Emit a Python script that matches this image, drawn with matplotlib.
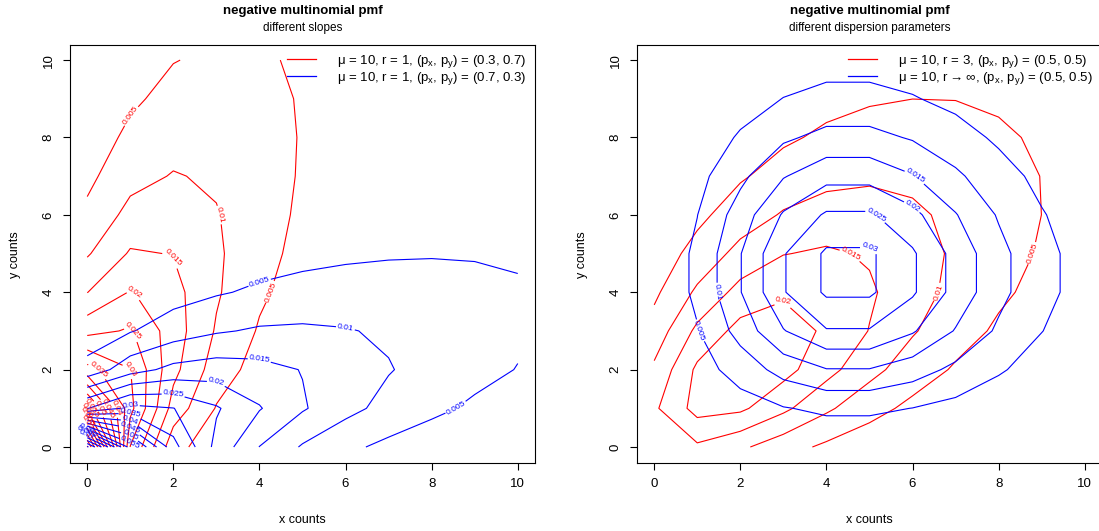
import math

import matplotlib
matplotlib.use("Agg")
import matplotlib.pyplot as plt
import numpy as np

plt.rcParams["font.family"] = ["Liberation Sans", "DejaVu Sans"]
plt.rcParams["mathtext.default"] = "regular"

# grid of counts and the distribution parameters read from the legends
counts = np.arange(0, 11)
mu = 10

left_r = [1, 1]
left_p = [(0.3, 0.7), (0.7, 0.3)]
left_labels = ["μ = 10, r = 1, (p$_x$, p$_y$) = (0.3, 0.7)",
               "μ = 10, r = 1, (p$_x$, p$_y$) = (0.7, 0.3)"]

right_r = [3, math.inf]
right_p = [(0.5, 0.5), (0.5, 0.5)]
right_labels = ["μ = 10, r = 3, (p$_x$, p$_y$) = (0.5, 0.5)",
                r"μ = 10, r$\rightarrow\infty$, (p$_x$, p$_y$) = (0.5, 0.5)"]

colors = ["red", "blue"]
titles = ["different slopes", "different dispersion parameters"]


def nm_pmf(x, y, mu, r, px, py):
    mx, my = mu * px, mu * py
    if math.isinf(r):
        # limit r -> inf: independent poissons
        lp = (-mx + x * math.log(mx) - math.lgamma(x + 1)
              - my + y * math.log(my) - math.lgamma(y + 1))
    else:
        lp = (math.lgamma(r + x + y) - math.lgamma(r) - math.lgamma(x + 1)
              - math.lgamma(y + 1) + r * math.log(r / (r + mu))
              + x * math.log(mx / (r + mu)) + y * math.log(my / (r + mu)))
    return math.exp(lp)


def pmf_grid(r, p):
    return np.array([[nm_pmf(x, y, mu, r, p[0], p[1]) for x in counts]
                     for y in counts])


fig = plt.figure(figsize=(10.99, 5.31), dpi=100)
boxes = [[0.0637, 0.129, 0.4231, 0.787], [0.5796, 0.129, 0.4231, 0.787]]
panels = [(left_r, left_p, left_labels), (right_r, right_p, right_labels)]

for k, (rs, ps, labels) in enumerate(panels):
    ax = fig.add_axes(boxes[k])
    X, Y = np.meshgrid(counts, counts)
    for r, p, col, lab in zip(rs, ps, colors, labels):
        Z = pmf_grid(r, p)
        n = int(Z.max() / 0.005 + 1e-9)
        levels = 0.005 * np.arange(1, n + 1)
        cs = ax.contour(X, Y, Z, levels=levels, colors=col, linewidths=0.8)
        ax.clabel(cs, inline=True, fontsize=6, fmt=lambda v: f"{v:g}",
                  inline_spacing=2)
        ax.plot([], [], color=col, lw=0.9, label=lab)

    ax.set_xlim(-0.4, 10.4)
    ax.set_ylim(-0.4, 10.4)
    ax.set_xticks(range(0, 11, 2))
    ax.set_yticks(range(0, 11, 2))
    ax.tick_params(axis="x", length=5, pad=6, labelsize=9.5)
    ax.tick_params(axis="y", length=5, pad=6, labelsize=9.5, labelrotation=90)
    for lbl in ax.get_yticklabels():
        lbl.set_va("center")
    ax.legend(loc="upper right", frameon=False, fontsize=9.5,
              handlelength=2.2, handletextpad=1.6, borderaxespad=0.25,
              labelspacing=0.0)

    cx = boxes[k][0] + boxes[k][2] / 2
    fig.text(cx, 0.979, "negative multinomial pmf", ha="center", va="center",
             fontsize=9.5, fontweight="bold")
    fig.text(cx, 0.947, titles[k], ha="center", va="center", fontsize=8.5)
    fig.text(cx, 0.021, "x counts", ha="center", va="center", fontsize=9)
    fig.text(boxes[k][0] - 0.05, 0.52, "y counts", ha="center", va="center",
             rotation=90, fontsize=9)

fig.savefig("out.png", dpi=100)
